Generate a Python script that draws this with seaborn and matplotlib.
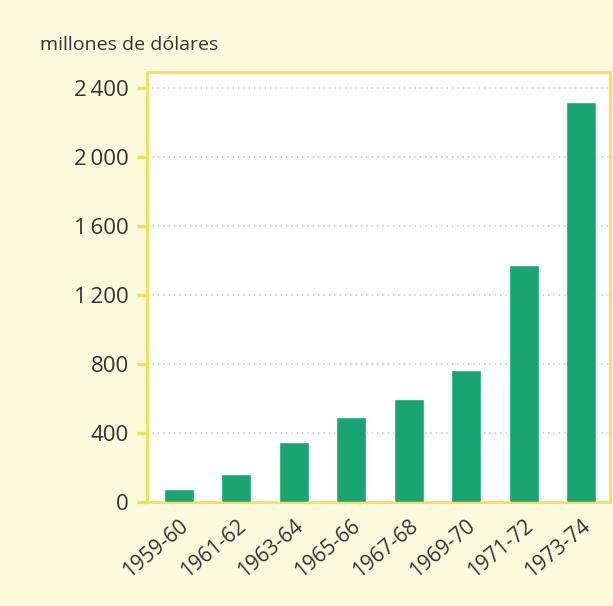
import matplotlib
matplotlib.use("Agg")
import matplotlib.pyplot as plt
import matplotlib.transforms as mtrans
import seaborn as sns
import pandas as pd

periodos = ['1959-60', '1961-62', '1963-64', '1965-66',
            '1967-68', '1969-70', '1971-72', '1973-74']
millones = [75, 162, 347, 490, 595, 763, 1370, 2318]
yticks = [0, 400, 800, 1200, 1600, 2000, 2400]
ytick_labels = ['0', '400', '800', '1\u2009200', '1\u2009600', '2\u2009000', '2\u2009400']

df = pd.DataFrame({'Periodo': periodos, 'Millones': millones})

sns.set_style("white")
plt.rcParams['font.family'] = ['Open Sans', 'DejaVu Sans']

fondo = '#fcfadd'
amarillo = '#f7e04a'
verde = '#17a571'
texto = '#333333'

fig = plt.figure(figsize=(6.13, 6.06), dpi=100, facecolor=fondo)
ax = fig.add_axes([0.24, 0.172, 0.755, 0.709])
ax.set_facecolor('white')

sns.barplot(data=df, x='Periodo', y='Millones', color=verde,
            width=0.52, saturation=1, ax=ax, zorder=3)

ax.set_ylim(0, 2490)
ax.set_xlim(-0.55, 7.5)
ax.set_yticks(yticks)
ax.set_yticklabels(ytick_labels, fontsize=16, color=texto)
ax.set_xticks(range(len(periodos)))
ax.set_xticklabels(periodos, rotation=40, ha='right', rotation_mode='anchor',
                   fontsize=15, color=texto)
# desplaza las etiquetas del eje x un poco a la derecha
desplazamiento = mtrans.ScaledTranslation(0.14, 0, fig.dpi_scale_trans)
for lbl in ax.get_xticklabels():
    lbl.set_transform(lbl.get_transform() + desplazamiento)
ax.set_xlabel('')
ax.set_ylabel('')

for y in yticks[1:]:
    ax.axhline(y, color='#c4c4c4', linestyle=(0, (1, 2.5)), linewidth=1.1, zorder=1)

for s in ax.spines.values():
    s.set_visible(True)
    s.set_color(amarillo)
    s.set_linewidth(2)

ax.tick_params(axis='y', which='major', length=7, width=2.5, color=amarillo,
               left=True, pad=6)
ax.tick_params(axis='x', length=0, pad=10)

fig.text(0.065, 0.925, 'millones de dólares', fontsize=14, color=texto,
         ha='left', va='center')

fig.savefig('out.png', dpi=100, facecolor=fondo)
